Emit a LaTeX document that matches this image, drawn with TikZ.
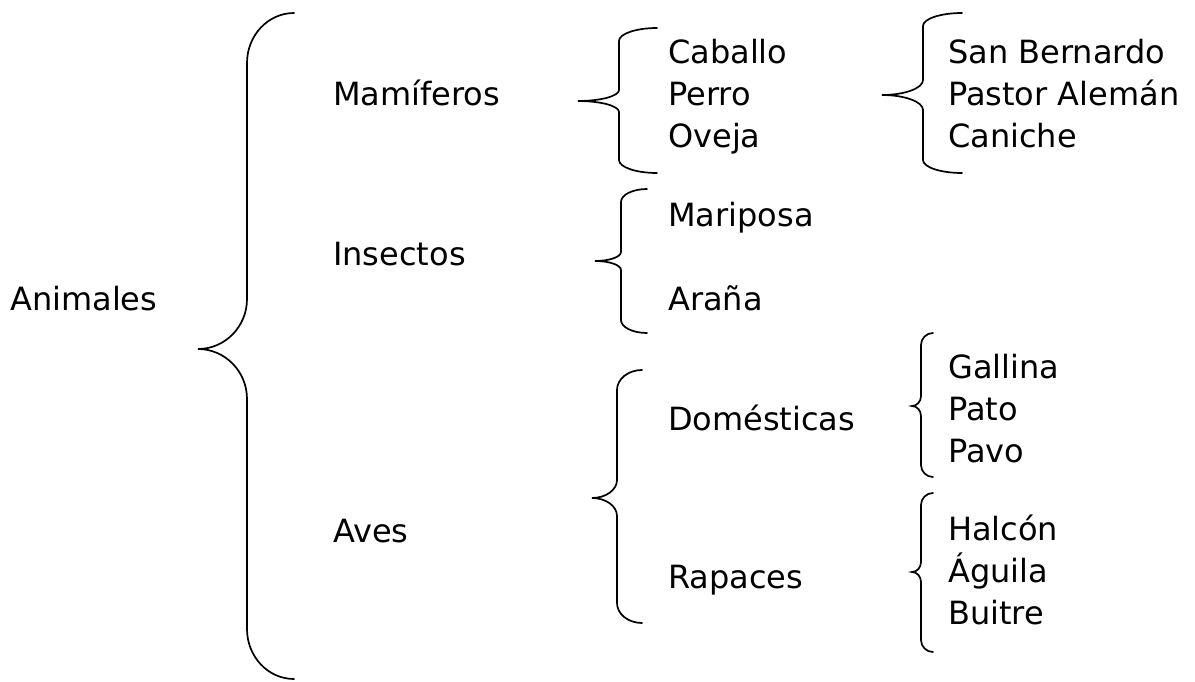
\documentclass[tikz,border=0pt]{standalone}
\usepackage{fontspec}
\setmainfont{DejaVu Sans}
\newcommand{\Brc}[8]{%
  % #1 xe, #2 yt, #3 xv, #4 xt, #5 ym, #6 yb, #7 he, #8 hm
  \draw[bracestyle] (#1,#2)
    .. controls ({#3+0.448*(#1-#3)},#2) and (#3,{#2+0.448*#7}) .. (#3,{#2+#7})
    -- (#3,{#5-#8})
    .. controls (#3,{#5-0.448*#8}) and ({#4+0.552*(#3-#4)},#5) .. (#4,#5)
    .. controls ({#4+0.552*(#3-#4)},#5) and (#3,{#5+0.448*#8}) .. (#3,{#5+#8})
    -- (#3,{#6-#7})
    .. controls (#3,{#6-0.448*#7}) and ({#3+0.448*(#1-#3)},#6) .. (#1,#6);}
\begin{document}
\begin{tikzpicture}[x=1pt,y=-1pt,
  bracestyle/.style={line width=1.7pt,black,line cap=round},
  lbl/.style={anchor=base west,inner sep=0pt,font=\fontsize{32}{38}\selectfont}]
\useasboundingbox (0,0) rectangle (1195,682);
% braces
\Brc{294}{13}{247}{198}{349}{679}{50}{50}
\Brc{657}{28}{619}{578}{101}{173}{13}{11}
\Brc{647}{189}{621}{595}{261}{333}{13}{9}
\Brc{642}{370}{617}{592}{498}{623}{20}{18}
\Brc{962}{13}{923}{882}{95}{173}{13}{15}
\Brc{933}{333}{921}{912}{406}{477}{12}{10}
\Brc{933}{493}{921}{912}{572}{652}{12}{10}
% labels
\node[lbl] (animales) at (10,310) {Animales};
\node[lbl] (mamiferos) at (333,106) {Mamíferos};
\node[lbl] (insectos) at (333,265) {Insectos};
\node[lbl] (aves) at (333,542) {Aves};
\node[lbl] (caballo) at (668,64) {Caballo};
\node[lbl] (perro) at (668,106) {Perro};
\node[lbl] (oveja) at (668,148) {Oveja};
\node[lbl] (mariposa) at (668,226) {Mariposa};
\node[lbl] (arana) at (668,310) {Araña};
\node[lbl] (domesticas) at (668,430) {Domésticas};
\node[lbl] (rapaces) at (668,588) {Rapaces};
\node[lbl] (sanbernardo) at (948,64) {San Bernardo};
\node[lbl] (pastor) at (948,106) {Pastor Alemán};
\node[lbl] (caniche) at (948,148) {Caniche};
\node[lbl] (gallina) at (948,378) {Gallina};
\node[lbl] (pato) at (948,420) {Pato};
\node[lbl] (pavo) at (948,462) {Pavo};
\node[lbl] (halcon) at (948,540) {Halcón};
\node[lbl] (aguila) at (948,582) {Águila};
\node[lbl] (buitre) at (948,624) {Buitre};
\end{tikzpicture}
\end{document}
